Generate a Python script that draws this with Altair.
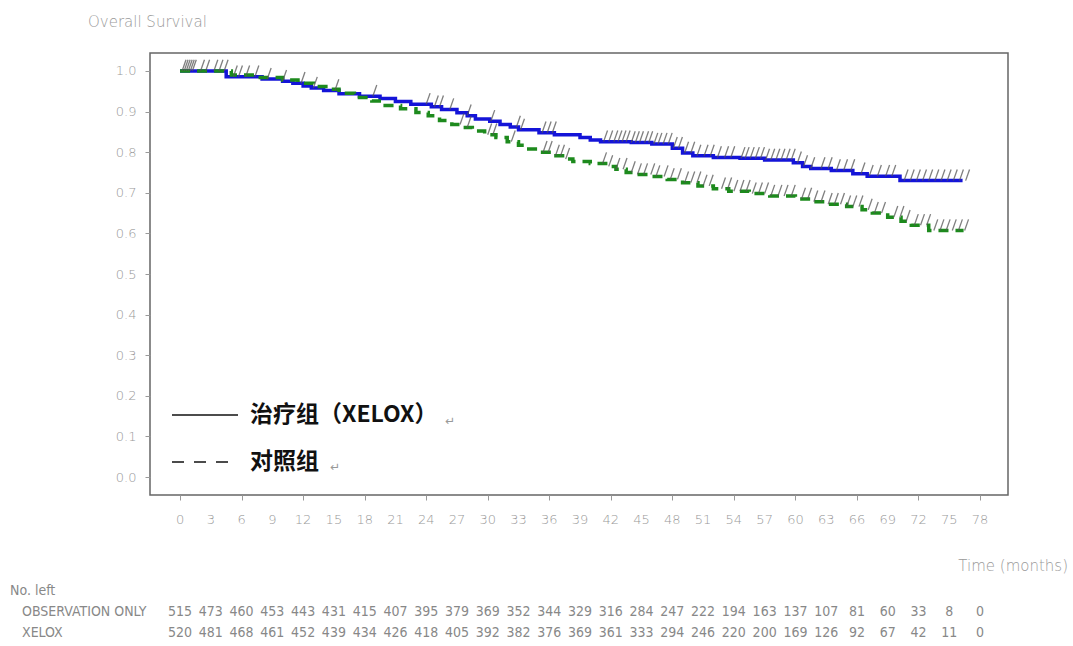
import altair as alt
import pandas as pd
import numpy as np

# ---- data ----
tick_months = [0, 3, 6, 9, 12, 15, 18, 21, 24, 27, 30, 33, 36, 39, 42, 45, 48, 51, 54,
               57, 60, 63, 66, 69, 72, 75, 78]
y_ticks = [0.0, 0.1, 0.2, 0.3, 0.4, 0.5, 0.6, 0.7, 0.8, 0.9, 1.0]

obs_left = [515, 473, 460, 453, 443, 431, 415, 407, 395, 379, 369, 352, 344, 329, 316,
            284, 247, 222, 194, 163, 137, 107, 81, 60, 33, 8, 0]
xelox_left = [520, 481, 468, 461, 452, 439, 434, 426, 418, 405, 392, 382, 376, 369, 361,
              333, 294, 246, 220, 200, 169, 126, 92, 67, 42, 11, 0]

xelox_t = [0, 4.5, 8, 10, 11, 12, 12.8, 14, 15.5, 17.5, 19.5, 21, 22.5, 24.5, 25.5, 27, 28,
           28.8, 30.2, 31.2, 32.2, 33, 35, 36.5, 39, 40, 41, 44, 46, 48, 49, 50, 52, 54.6,
           57, 59.8, 60.7, 61.5, 63.5, 65.6, 67, 70.2, 76.3]
xelox_s = [1.0, 0.986, 0.980, 0.975, 0.970, 0.963, 0.958, 0.952, 0.944, 0.938, 0.932, 0.925,
           0.918, 0.912, 0.905, 0.897, 0.890, 0.882, 0.876, 0.868, 0.862, 0.855, 0.848,
           0.843, 0.836, 0.830, 0.826, 0.824, 0.820, 0.810, 0.798, 0.791, 0.787, 0.785,
           0.781, 0.774, 0.765, 0.760, 0.755, 0.747, 0.741, 0.730, 0.730]

control_t = [0, 5, 7.5, 10, 11.5, 13, 14.5, 15.5, 17, 18.7, 20, 21.5, 23, 24.2, 25.3, 26.5,
             27.5, 28.5, 29.7, 30.8, 31.9, 33, 34, 35.1, 36.2, 37.3, 38.3, 40, 41.5, 42.5,
             43.5, 44.5, 46, 47.5, 49, 50.5, 52, 53.5, 55.5, 57.5, 60, 61.5, 63, 65, 66.5,
             67.5, 69, 70.3, 71.3, 73, 76.4]
control_s = [1.0, 0.990, 0.984, 0.978, 0.970, 0.962, 0.955, 0.945, 0.935, 0.926, 0.915,
             0.907, 0.898, 0.890, 0.878, 0.868, 0.861, 0.852, 0.843, 0.836, 0.826, 0.817,
             0.808, 0.800, 0.791, 0.783, 0.777, 0.772, 0.765, 0.758, 0.750, 0.745, 0.740,
             0.733, 0.725, 0.717, 0.710, 0.704, 0.698, 0.692, 0.685, 0.678, 0.672, 0.666,
             0.658, 0.650, 0.640, 0.630, 0.620, 0.607, 0.607]

xelox_cens = [0.2, 0.4, 0.6, 0.8, 1.0, 1.2, 2.0, 2.5, 3.3, 3.8, 4.3, 5.2, 5.7, 6.4, 7.3, 8.5,
              10, 11.8, 13, 15.1, 18.8, 24.0, 24.8, 25.3, 26.3, 28.0, 30.3, 32.8, 33.2, 35.3,
              35.8, 36.3, 41.3, 41.8, 42.3, 42.7, 43.1, 43.5, 44.0, 44.4, 44.8, 45.3, 45.7,
              46.2, 46.6, 47.1, 47.6, 48.1, 48.6, 49.2, 49.8, 50.4, 51.1, 51.7, 52.4, 53.1,
              53.7, 54.7, 55.1, 55.6, 56.1, 56.6, 57.1, 57.6, 58.1, 58.6, 59.1, 59.6, 60.2,
              60.8, 61.5, 62.5, 63.2, 64.0, 64.7, 65.4, 66.4, 67.2, 68.0, 68.8, 69.4, 70.6,
              71.2, 71.8, 72.4, 73.0, 73.6, 74.2, 74.8, 75.4, 76.0, 76.6]
control_cens = [27.3, 28.0, 30.0, 30.5, 32.3, 35.4, 35.9, 36.6, 37.1, 37.6, 41.2, 41.8, 42.5,
                43.2, 44.0, 44.6, 45.2, 45.9, 46.4, 47.2, 47.8, 48.5, 49.2, 49.8, 50.4, 51.0,
                51.6, 52.8, 53.4, 54.0, 54.6, 55.2, 55.8, 56.4, 57.0, 57.6, 58.3, 58.9, 59.6,
                60.6, 61.2, 61.8, 62.5, 63.2, 63.8, 64.4, 65.0, 65.6, 66.2, 67.1, 67.7, 68.4,
                69.6, 70.2, 70.8, 71.6, 72.2, 72.8, 73.5, 74.1, 74.7, 75.3, 75.9, 76.5]

# ---- tables ----
def cens_df(times, st, ss):
    st = np.array(st)
    ss = np.array(ss)
    idx = np.searchsorted(st, np.array(times), side="right") - 1
    return pd.DataFrame({"t": times, "s": ss[idx]})

xelox_df = pd.DataFrame({"t": xelox_t, "s": xelox_s})
control_df = pd.DataFrame({"t": control_t, "s": control_s})
cens_all = pd.concat([cens_df(xelox_cens, xelox_t, xelox_s),
                      cens_df(control_cens, control_t, control_s)])
table_df = pd.DataFrame({"t": tick_months, "obs": obs_left, "xel": xelox_left})

AXIS_FONT = "DejaVu Sans"
TABLE_FONT = "Liberation Sans Narrow, DejaVu Sans Condensed, sans-serif"
CJK = "Noto Sans CJK SC"

xs = alt.Scale(domain=[-2.93, 80.73], nice=False, zero=False)
ys = alt.Scale(domain=[-0.0443, 1.0443], nice=False, zero=False)

# x-axis: ticks only; the month labels are drawn as a text layer on the same scale
x_axis = alt.Axis(values=tick_months, title=None, grid=False, domain=False, tickSize=5,
                  tickColor="#999", labels=False)
y_axis = alt.Axis(values=y_ticks, format=".1f", title=None, grid=False, domain=False,
                  tickSize=5, tickColor="#999", labelColor="#999", labelFont=AXIS_FONT,
                  labelFontSize=13, labelFontWeight=300, labelPadding=9,
                  labelOverlap=False)

xelox_line = alt.Chart(xelox_df).mark_line(
    interpolate="step-after", color="#1414d8", strokeWidth=3.5
).encode(x=alt.X("t:Q", scale=xs, axis=x_axis), y=alt.Y("s:Q", scale=ys, axis=y_axis))

control_line = alt.Chart(control_df).mark_line(
    interpolate="step-after", color="#1d8a1d", strokeWidth=3.5, strokeDash=[10, 7]
).encode(x=alt.X("t:Q", scale=xs), y=alt.Y("s:Q", scale=ys))

cens = alt.Chart(cens_all).mark_point(
    shape="M0,0L0.35,-1", size=500, filled=False, stroke="#555", strokeWidth=1.3, opacity=0.75
).encode(x=alt.X("t:Q", scale=xs), y=alt.Y("s:Q", scale=ys))

one = pd.DataFrame({"a": [0]})

def txt(text, x, y, size, color, font, weight="normal", align="left"):
    return alt.Chart(one).mark_text(
        text=text, align=align, baseline="middle", fontSize=size, color=color,
        font=font, fontWeight=weight
    ).encode(x=alt.value(x), y=alt.value(y))

title = txt("Overall Survival", -62, -31, 15, "#999", AXIS_FONT, 300)
time_lbl = txt("Time (months)", 918, 513, 15, "#999", AXIS_FONT, 300, "right")
noleft = txt("No. left", -140, 538, 14, "#888", TABLE_FONT)
row1 = txt("OBSERVATION ONLY", -128, 559, 14, "#888", TABLE_FONT)
row2 = txt("XELOX", -128, 580, 14, "#888", TABLE_FONT)

x_labels = alt.Chart(table_df).mark_text(
    align="center", baseline="middle", fontSize=13, color="#999", font=AXIS_FONT,
    fontWeight=300
).encode(x=alt.X("t:Q", scale=xs), y=alt.value(467), text="t:Q")

obs_nums = alt.Chart(table_df).mark_text(
    align="center", baseline="middle", fontSize=14, color="#888", font=TABLE_FONT
).encode(x=alt.X("t:Q", scale=xs), y=alt.value(559), text="obs:Q")
xel_nums = alt.Chart(table_df).mark_text(
    align="center", baseline="middle", fontSize=14, color="#888", font=TABLE_FONT
).encode(x=alt.X("t:Q", scale=xs), y=alt.value(580), text="xel:Q")

leg1 = alt.Chart(one).mark_rule(color="#111", strokeWidth=1.5).encode(
    x=alt.value(22), x2=alt.value(88), y=alt.value(362))
leg2 = alt.Chart(one).mark_rule(color="#111", strokeWidth=1.5, strokeDash=[12, 10]).encode(
    x=alt.value(22), x2=alt.value(88), y=alt.value(409))
leg1t = txt("治疗组（XELOX）", 100, 362, 23, "#111", CJK, "bold")
leg2t = txt("对照组", 100, 409, 23, "#111", CJK, "bold")
ret1 = txt("↵", 295, 368, 12, "#999", AXIS_FONT)
ret2 = txt("↵", 180, 414, 12, "#999", AXIS_FONT)

chart = alt.layer(
    xelox_line, control_line, cens, title, time_lbl, noleft, row1, row2, x_labels,
    obs_nums, xel_nums, leg1, leg2, leg1t, leg2t, ret1, ret2
).properties(
    width=858, height=442,
    padding={"left": 150, "top": 53, "right": 65, "bottom": 151},
    autosize=alt.AutoSizeParams(type="none"),
    background="white"
).configure_view(stroke="#666", strokeWidth=1.5)

chart.save("out.html", embed_options={"renderer": "svg", "actions": False})
